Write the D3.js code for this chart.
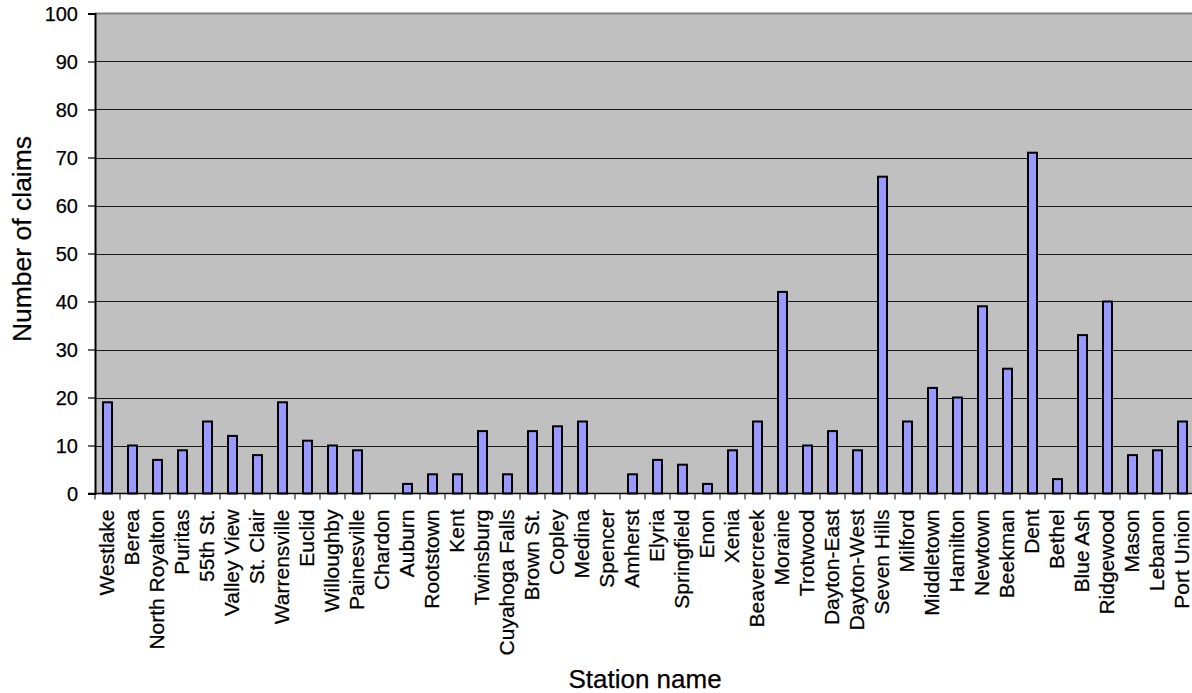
<!DOCTYPE html>
<html>
<head>
<meta charset="utf-8">
<script src="https://cdn.jsdelivr.net/npm/d3@7"></script>
<style>
  html, body { margin: 0; padding: 0; background: #fff; }
  svg { display: block; }
  text { font-family: "Liberation Sans", Arial, sans-serif; fill: #000; stroke: #000; stroke-width: 0.25px; }
</style>
</head>
<body>
<svg id="chart" width="1192" height="693"></svg>
<script>
// Claims per station
const stations = [
  "Westlake", "Berea", "North Royalton", "Puritas", "55th St.", "Valley View",
  "St. Clair", "Warrensville", "Euclid", "Willoughby", "Painesville", "Chardon",
  "Auburn", "Rootstown", "Kent", "Twinsburg", "Cuyahoga Falls", "Brown St.",
  "Copley", "Medina", "Spencer", "Amherst", "Elyria", "Springfield", "Enon",
  "Xenia", "Beavercreek", "Moraine", "Trotwood", "Dayton-East", "Dayton-West",
  "Seven Hills", "Milford", "Middletown", "Hamilton", "Newtown", "Beekman",
  "Dent", "Bethel", "Blue Ash", "Ridgewood", "Mason", "Lebanon", "Port Union"
];
const claims = [
  19, 10, 7, 9, 15, 12,
  8, 19, 11, 10, 9, 0,
  2, 4, 4, 13, 4, 13,
  14, 15, 0, 4, 7, 6, 2,
  9, 15, 42, 10, 13, 9,
  66, 15, 22, 20, 39, 26,
  71, 3, 33, 40, 8, 9, 15
];
const yTicks = [0, 10, 20, 30, 40, 50, 60, 70, 80, 90, 100];
const yTitle = "Number of claims";
const xTitle = "Station name";

const rows = stations.map((name, i) => ({ name, value: claims[i] }));

const svg = d3.select("#chart");
const plot = { left: 95, right: 1195, top: 13.5, bottom: 493.5 };

const x = d3.scaleBand()
  .domain(stations)
  .range([plot.left, plot.right])
  .padding(0);

const y = d3.scaleLinear()
  .domain([0, 100])
  .range([plot.bottom, plot.top]);

// plot area background
svg.append("rect")
  .attr("x", plot.left)
  .attr("y", plot.top)
  .attr("width", plot.right - plot.left)
  .attr("height", plot.bottom - plot.top)
  .attr("fill", "#c0c0c0");

// horizontal gridlines
svg.append("g")
  .selectAll("line")
  .data(yTicks.filter(t => t > 0 && t < 100))
  .join("line")
  .attr("x1", plot.left)
  .attr("x2", plot.right)
  .attr("y1", d => Math.round(y(d)) + 0.5)
  .attr("y2", d => Math.round(y(d)) + 0.5)
  .attr("stroke", "#1a1a1a")
  .attr("stroke-width", 1);

// top border of plot area
svg.append("line")
  .attr("x1", plot.left)
  .attr("x2", plot.right)
  .attr("y1", plot.top)
  .attr("y2", plot.top)
  .attr("stroke", "#808080")
  .attr("stroke-width", 2);

// bars
const barW = x.bandwidth() * 0.36;
svg.append("g")
  .selectAll("rect")
  .data(rows.filter(d => d.value > 0))
  .join("rect")
  .attr("x", d => x(d.name) + (x.bandwidth() - barW) / 2)
  .attr("y", d => y(d.value))
  .attr("width", barW)
  .attr("height", d => y(0) - y(d.value))
  .attr("fill", "#9999ff")
  .attr("stroke", "#000")
  .attr("stroke-width", 2);

// y axis
const yAxis = d3.axisLeft(y)
  .tickValues(yTicks)
  .tickSize(7)
  .tickPadding(10)
  .tickFormat(d3.format("d"));

const gy = svg.append("g")
  .attr("transform", `translate(${plot.left},0)`)
  .call(yAxis);
gy.select(".domain").attr("stroke", "#000").attr("stroke-width", 2);
gy.selectAll(".tick line").attr("stroke", "#000").attr("stroke-width", 1.2);
gy.selectAll(".tick text")
  .style("font-size", "20px")
  .attr("dy", "0.36em");

// x axis: ticks sit on the category boundaries
const boundaries = stations.map(s => x(s)).concat([plot.right]);
const gx = svg.append("g");
gx.append("line")
  .attr("x1", plot.left - 7)
  .attr("x2", plot.right)
  .attr("y1", plot.bottom)
  .attr("y2", plot.bottom)
  .attr("stroke", "#000")
  .attr("stroke-width", 1.5);
gx.selectAll("line.tick")
  .data(boundaries)
  .join("line")
  .attr("class", "tick")
  .attr("x1", d => d)
  .attr("x2", d => d)
  .attr("y1", plot.bottom)
  .attr("y2", plot.bottom + 6)
  .attr("stroke", "#000")
  .attr("stroke-width", 1);

// category labels, rotated
gx.selectAll("text")
  .data(stations)
  .join("text")
  .attr("transform", d => `translate(${x(d) + x.bandwidth() / 2 + 6.5},${plot.bottom + 16}) rotate(-90)`)
  .attr("text-anchor", "end")
  .style("font-size", "21px")
  .text(d => d);

// axis titles
svg.append("text")
  .attr("transform", `translate(31,239) rotate(-90)`)
  .attr("text-anchor", "middle")
  .style("font-size", "26.5px")
  .text(yTitle);

svg.append("text")
  .attr("x", (plot.left + plot.right) / 2)
  .attr("y", 688)
  .attr("text-anchor", "middle")
  .style("font-size", "26px")
  .text(xTitle);
</script>
</body>
</html>
